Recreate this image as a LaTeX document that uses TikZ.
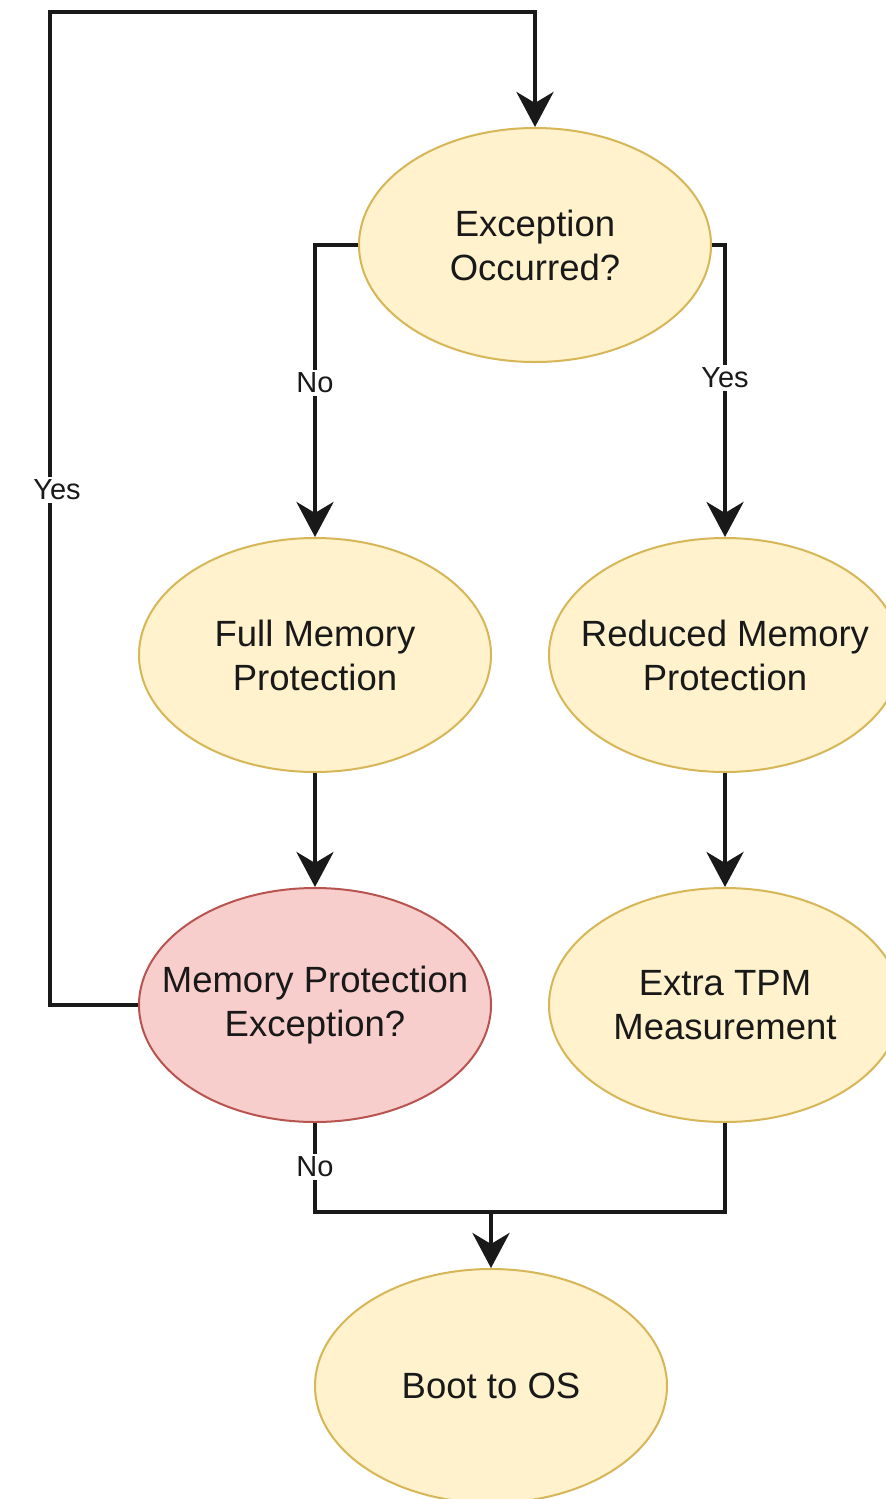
\documentclass[tikz,border=0pt]{standalone}
\usepackage{fontspec}
\setmainfont{Liberation Sans}
\usetikzlibrary{shapes.geometric,arrows.meta}
\definecolor{yelfill}{HTML}{FFF2CC}
\definecolor{yeldraw}{HTML}{D6B656}
\definecolor{redfill}{HTML}{F8CECC}
\definecolor{reddraw}{HTML}{B85450}
\tikzset{
  oval/.style={ellipse, minimum width=352pt, minimum height=234pt, inner sep=0pt, line width=2pt},
  yel/.style={oval, fill=yelfill, draw=yeldraw},
  red/.style={oval, fill=redfill, draw=reddraw},
  txt/.style={align=center, text=black!90, font=\fontsize{36.5}{44}\selectfont},
  lbl/.style={fill=white, inner sep=3pt, text=black!90, font=\fontsize{29}{34}\selectfont},
  flow/.style={line width=4.5pt, draw=black!90},
  arr/.style={flow, -{Stealth[length=35pt, width=37pt, inset=11pt]}},
}
\begin{document}
\begin{tikzpicture}[x=1pt, y=-1pt]
\useasboundingbox (0,0) rectangle (886,1499);
\clip (0,0) rectangle (886,1499);
\fill[white] (0,0) rectangle (886,1499);

% nodes
\node[yel] (eo)   at (535,245)  {};
\node[yel] (fmp)  at (315,655)  {};
\node[yel] (rmp)  at (725,655)  {};
\node[red] (mpe)  at (315,1005) {};
\node[yel] (etm)  at (725,1005) {};
\node[yel] (boot) at (491,1386) {};

\node[txt] (teo)   at (eo)   {Exception\\Occurred?};
\node[txt] (tfmp)  at (fmp)  {Full Memory\\Protection};
\node[txt] (trmp)  at (rmp)  {Reduced Memory\\Protection};
\node[txt] (tmpe)  at (mpe)  {Memory Protection\\Exception?};
\node[txt] (tetm)  at (etm)  {Extra TPM\\Measurement};
\node[txt] (tboot) at (boot) {Boot to OS};

% routing points
\coordinate (lb) at (50,1005);
\coordinate (lt) at (50,12);
\coordinate (mg) at (491,1212);

% connectors
\draw[arr] (eo.west) -| (fmp.north);
\draw[arr] (eo.east) -| (rmp.north);
\draw[arr] (fmp.south) -- (mpe.north);
\draw[arr] (rmp.south) -- (etm.north);
\draw[arr] (mpe.west) -- (lb) -- (lt) -| (eo.north);
\draw[flow] (mpe.south) |- (mg);
\draw[flow] (etm.south) |- (mg);
\draw[arr] (mg) -- (boot.north);

% labels
\node[lbl] (l1) at (315,383)  {No};
\node[lbl] (l2) at (725,378)  {Yes};
\node[lbl] (l3) at (57,490)   {Yes};
\node[lbl] (l4) at (315,1167) {No};
\end{tikzpicture}
\end{document}
